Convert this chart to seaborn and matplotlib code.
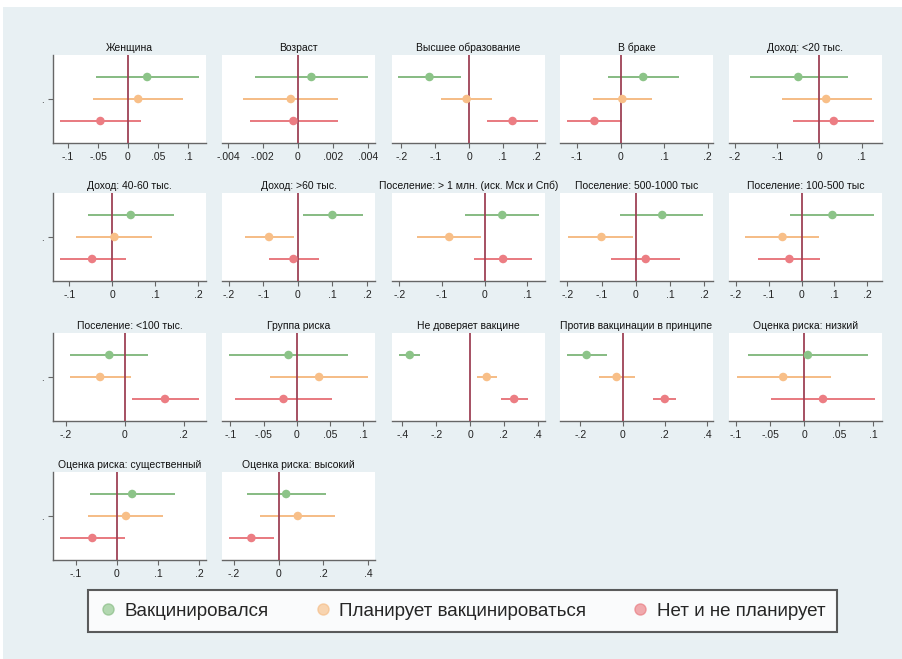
import numpy as np
import pandas as pd
import matplotlib
matplotlib.use("Agg")
import matplotlib.pyplot as plt
import seaborn as sns
from matplotlib.lines import Line2D
from matplotlib.patches import Rectangle

# ---------------- data ----------------
titles = [
    "Женщина", "Возраст", "Высшее образование", "В браке", "Доход: <20 тыс.",
    "Доход: 40-60 тыс.", "Доход: >60 тыс.", "Поселение: > 1 млн. (иск. Мск и Спб)",
    "Поселение: 500-1000 тыс", "Поселение: 100-500 тыс",
    "Поселение: <100 тыс.", "Группа риска", "Не доверяет вакцине",
    "Против вакцинации в принципе", "Оценка риска: низкий",
    "Оценка риска: существенный", "Оценка риска: высокий",
]
groups = ["Вакцинировался", "Планирует вакцинироваться", "Нет и не планирует"]

vacc_est = [0.032, 0.00078, -0.117, 0.052, -0.050, 0.043, 0.100, 0.041, 0.077, 0.094,
            -0.052, -0.0125, -0.356, -0.170, 0.005, 0.037, 0.034]
vacc_lo = [-0.053, -0.00244, -0.210, -0.028, -0.165, -0.057, 0.016, -0.047, -0.045, -0.035,
           -0.184, -0.1015, -0.422, -0.265, -0.083, -0.067, -0.141]
vacc_hi = [0.118, 0.0040, -0.025, 0.134, 0.068, 0.143, 0.187, 0.126, 0.196, 0.220,
           0.079, 0.0775, -0.293, -0.072, 0.092, 0.141, 0.212]

plan_est = [0.017, -0.0004, -0.007, 0.004, 0.016, 0.005, -0.083, -0.083, -0.100, -0.058,
            -0.083, 0.0335, 0.099, -0.028, -0.031, 0.022, 0.086]
plan_lo = [-0.058, -0.00316, -0.082, -0.064, -0.089, -0.084, -0.152, -0.159, -0.197, -0.171,
           -0.187, -0.040, 0.040, -0.110, -0.099, -0.070, -0.081]
plan_hi = [0.092, 0.00232, 0.069, 0.073, 0.124, 0.092, -0.011, -0.008, -0.008, 0.054,
           0.022, 0.1075, 0.162, 0.058, 0.0385, 0.113, 0.252]

no_est = [-0.046, -0.00025, 0.129, -0.060, 0.034, -0.047, -0.0125, 0.043, 0.029, -0.037,
          0.137, -0.020, 0.261, 0.200, 0.027, -0.060, -0.121]
no_lo = [-0.114, -0.00272, 0.052, -0.124, -0.063, -0.122, -0.082, -0.026, -0.071, -0.133,
         0.024, -0.0925, 0.182, 0.145, -0.049, -0.139, -0.222]
no_hi = [0.021, 0.00229, 0.203, 0.004, 0.130, 0.031, 0.060, 0.110, 0.130, 0.056,
         0.251, 0.0525, 0.340, 0.255, 0.103, 0.020, -0.022]

xticks = [
    [-0.1, -0.05, 0, 0.05, 0.1], [-0.004, -0.002, 0, 0.002, 0.004], [-0.2, -0.1, 0, 0.1, 0.2],
    [-0.1, 0, 0.1, 0.2], [-0.2, -0.1, 0, 0.1],
    [-0.1, 0, 0.1, 0.2], [-0.2, -0.1, 0, 0.1, 0.2], [-0.2, -0.1, 0, 0.1],
    [-0.2, -0.1, 0, 0.1, 0.2], [-0.2, -0.1, 0, 0.1, 0.2],
    [-0.2, 0, 0.2], [-0.1, -0.05, 0, 0.05, 0.1], [-0.4, -0.2, 0, 0.2, 0.4],
    [-0.2, 0, 0.2, 0.4], [-0.1, -0.05, 0, 0.05, 0.1],
    [-0.1, 0, 0.1, 0.2], [-0.2, 0, 0.2, 0.4],
]
xlims = [
    (-0.125, 0.13), (-0.00434, 0.00442), (-0.228, 0.225), (-0.139, 0.212), (-0.214, 0.148),
    (-0.138, 0.218), (-0.219, 0.223), (-0.217, 0.141), (-0.221, 0.225), (-0.221, 0.245),
    (-0.243, 0.276), (-0.1125, 0.1175), (-0.461, 0.443), (-0.296, 0.428), (-0.11, 0.113),
    (-0.156, 0.217), (-0.252, 0.43),
]

rows = []
for i in range(len(titles)):
    for g, est, lo, hi, pos in [(groups[0], vacc_est, vacc_lo, vacc_hi, 3),
                                (groups[1], plan_est, plan_lo, plan_hi, 2),
                                (groups[2], no_est, no_lo, no_hi, 1)]:
        rows.append(dict(panel=i, group=g, est=est[i], lo=lo[i], hi=hi[i], pos=pos))
df = pd.DataFrame(rows)

# ---------------- style ----------------
sns.set_style("white")
plt.rcParams['font.family'] = ['Liberation Sans', 'DejaVu Sans']

line_cols = {groups[0]: "#86bb82", groups[1]: "#f5bc85", groups[2]: "#e8797f"}
dot_cols = {groups[0]: "#8cc488", groups[1]: "#f8bf88", groups[2]: "#ec7d83"}
zero_col = "#9e4256"
bg_col = "#e8f0f3"

W, H = 903, 659
fig = plt.figure(figsize=(W / 100, H / 100), dpi=100)
fig.patch.set_facecolor("white")
fig.patches.append(Rectangle((3 / W, 0), 1, 1 - 7 / H, transform=fig.transFigure,
                             facecolor=bg_col, edgecolor="none", zorder=-10))

col_left = [53, 222, 392, 560, 729]
col_w = 153
row_top = [55, 193, 333, 472]
row_h = 88

def fmt(v):
    s = f"{v:g}"
    if s.startswith("0."):
        s = s[1:]
    elif s.startswith("-0."):
        s = "-" + s[2:]
    return s

for i, title in enumerate(titles):
    r, c = divmod(i, 5)
    left = col_left[c] / W
    bottom = 1 - (row_top[r] + row_h) / H
    ax = fig.add_axes([left, bottom, col_w / W, row_h / H])
    ax.set_facecolor("white")
    sub = df[df.panel == i]
    ax.hlines(sub.pos, sub.lo, sub.hi, colors=[line_cols[g] for g in sub.group],
              linewidth=1.4, zorder=2)
    ax.axvline(0, color=zero_col, linewidth=1.3, zorder=3)
    sns.scatterplot(data=sub, x="est", y="pos", hue="group", palette=dot_cols,
                    hue_order=groups, s=38, linewidth=0, legend=False, ax=ax, zorder=4)
    ax.set_xlim(*xlims[i])
    ax.set_ylim(0, 4)
    ax.set_xticks(xticks[i])
    ax.set_xticklabels([fmt(v) for v in xticks[i]], fontsize=7.5, color="#222222")
    ax.set_xlabel("")
    ax.set_ylabel("")
    for s in ["top", "right"]:
        ax.spines[s].set_visible(False)
    ax.spines["bottom"].set_color("#666666")
    ax.spines["bottom"].set_linewidth(1.0)
    ax.tick_params(axis="x", direction="out", length=3.5, width=0.8, color="#666666", pad=3,
                   bottom=True)
    if c == 0:
        ax.spines["left"].set_color("#666666")
        ax.spines["left"].set_linewidth(1.0)
        ax.set_yticks([2])
        ax.set_yticklabels(["."], fontsize=7)
        ax.tick_params(axis="y", direction="out", length=3.5, width=0.8, color="#666666",
                       pad=3, left=True)
    else:
        ax.spines["left"].set_visible(False)
        ax.set_yticks([])
    ax.set_title(title, fontsize=7.5, color="#111111", pad=3)

handles = [Line2D([], [], marker="o", ls="", markersize=8, markerfacecolor=dot_cols[g],
                  markeredgecolor=line_cols[g], alpha=0.65) for g in groups]
leg = fig.legend(handles, groups, loc="center", bbox_to_anchor=(462.5 / W, 1 - 611 / H),
                 ncol=3, frameon=True, fancybox=False, fontsize=13.5, handletextpad=0.45,
                 columnspacing=2.4, borderpad=0.64, handlelength=0.9)
leg.get_frame().set_edgecolor("#333333")
leg.get_frame().set_linewidth(1.5)
leg.get_frame().set_facecolor("white")

fig.savefig("out.png", dpi=100, facecolor=fig.get_facecolor())
